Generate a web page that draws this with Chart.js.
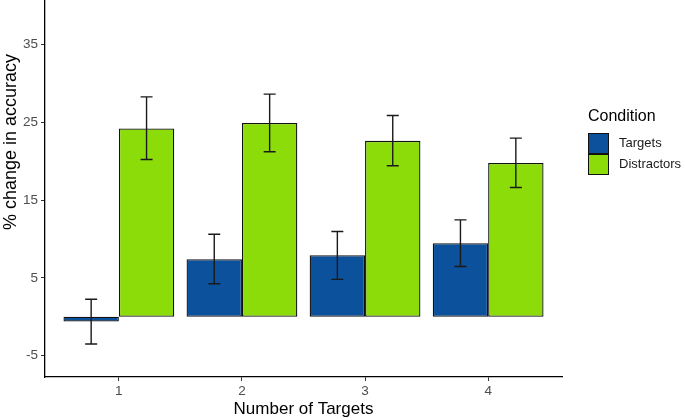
<!DOCTYPE html>
<html>
<head>
<meta charset="utf-8">
<script src="https://cdn.jsdelivr.net/npm/chart.js@4/dist/chart.umd.min.js"></script>
<style>
  html, body { margin: 0; padding: 0; background: #fff; }
  #wrap { width: 685px; height: 420px; position: relative; }
</style>
</head>
<body>
<div id="wrap"><canvas id="chart"></canvas></div>
<script>
// data
var categories = [1, 2, 3, 4];
var seriesNames = ['Targets', 'Distractors'];
var targetValues = [-0.6, 7.4, 7.9, 9.45];
var targetLow = [-3.5, 4.25, 4.8, 6.45];
var targetHigh = [2.25, 10.6, 10.95, 12.45];
var distractorValues = [24.2, 24.9, 22.6, 19.75];
var distractorLow = [20.2, 21.2, 19.4, 16.6];
var distractorHigh = [28.25, 28.6, 25.85, 22.95];
var yTicks = [-5, 5, 15, 25, 35];
var yTitle = '% change in accuracy';
var xTitle = 'Number of Targets';
var legendTitle = 'Condition';

var FONT = '"Liberation Sans", Arial, sans-serif';
var colors = ['#0C519B', '#8CDC0A'];

function points(vals) {
    return categories.map(function(c, i) { return { x: c, y: vals[i] }; });
}

var errorBars = {
    id: 'errorBars',
    afterDatasetsDraw: function(chart) {
        var ctx = chart.ctx;
        var y = chart.scales.y;
        var ranges = [[targetLow, targetHigh], [distractorLow, distractorHigh]];
        ctx.save();
        ctx.strokeStyle = '#1a1a1a';
        ctx.lineWidth = 1.4;
        chart.data.datasets.forEach(function(ds, d) {
            var meta = chart.getDatasetMeta(d);
            meta.data.forEach(function(bar, i) {
                var top = y.getPixelForValue(ranges[d][1][i]);
                var bot = y.getPixelForValue(ranges[d][0][i]);
                var cx = bar.x, half = 6;
                ctx.beginPath();
                ctx.moveTo(cx, top); ctx.lineTo(cx, bot);
                ctx.moveTo(cx - half, top); ctx.lineTo(cx + half, top);
                ctx.moveTo(cx - half, bot); ctx.lineTo(cx + half, bot);
                ctx.stroke();
            });
        });
        ctx.restore();
    }
};

// y title sits off-centre because the original panel is cropped at the top
var yTitlePlugin = {
    id: 'yTitlePlugin',
    afterDraw: function(chart) {
        var ctx = chart.ctx;
        ctx.save();
        ctx.translate(11, 142);
        ctx.rotate(-Math.PI / 2);
        ctx.fillStyle = '#000';
        ctx.font = '18px ' + FONT;
        ctx.textAlign = 'center';
        ctx.textBaseline = 'middle';
        ctx.fillText(yTitle, 0, 0);
        ctx.restore();
    }
};

var sideLegend = {
    id: 'sideLegend',
    afterDraw: function(chart) {
        var ctx = chart.ctx;
        ctx.save();
        ctx.fillStyle = '#000';
        ctx.font = '16px ' + FONT;
        ctx.textBaseline = 'middle';
        ctx.textAlign = 'left';
        ctx.fillText(legendTitle, 588, 117);
        ctx.font = '13px ' + FONT;
        chart.data.datasets.forEach(function(ds, i) {
            var by = 133 + i * 21;
            ctx.fillStyle = ds.backgroundColor;
            ctx.fillRect(588, by, 21, 21);
            ctx.strokeStyle = '#111';
            ctx.lineWidth = 1;
            ctx.strokeRect(588.5, by + 0.5, 20, 20);
            ctx.fillStyle = '#1a1a1a';
            ctx.fillText(ds.label, 619, by + 10.5);
        });
        ctx.restore();
    }
};

new Chart(document.getElementById('chart'), {
    type: 'bar',
    data: {
        datasets: [
            { label: seriesNames[0], data: points(targetValues), backgroundColor: colors[0], borderColor: '#111', borderWidth: 1.3, borderSkipped: false },
            { label: seriesNames[1], data: points(distractorValues), backgroundColor: colors[1], borderColor: '#111', borderWidth: 1.3, borderSkipped: false }
        ]
    },
    options: {
        responsive: true,
        maintainAspectRatio: false,
        animation: false,
        layout: { padding: { top: 0, right: 123, bottom: 0, left: 0 } },
        categoryPercentage: 0.9,
        barPercentage: 1.0,
        plugins: {
            legend: { display: false },
            tooltip: { enabled: false }
        },
        scales: {
            x: {
                type: 'linear',
                min: 0.4,
                max: 4.6,
                offset: false,
                afterBuildTicks: function(scale) {
                    scale.ticks = categories.map(function(c) { return { value: c }; });
                },
                afterFit: function(scale) { scale.height = 43; },
                grid: { display: true, offset: false, drawOnChartArea: false, drawTicks: true, tickLength: 4, color: '#333' },
                border: { display: true, color: '#000', width: 1.3 },
                ticks: { color: '#4d4d4d', font: { family: FONT, size: 13.5 }, padding: 2, maxRotation: 0 },
                title: { display: true, text: xTitle, color: '#000', font: { family: FONT, size: 17 }, padding: { top: 0, bottom: 0 } }
            },
            y: {
                min: -7.74,
                max: 40.7,
                afterBuildTicks: function(scale) {
                    scale.ticks = yTicks.map(function(v) { return { value: v }; });
                },
                afterFit: function(scale) {
                    scale.width = 45;
                    scale.paddingTop = 0;
                },
                grid: { display: true, drawOnChartArea: false, drawTicks: true, tickLength: 4, color: '#333' },
                border: { display: true, color: '#000', width: 1.3 },
                ticks: { color: '#4d4d4d', font: { family: FONT, size: 13.5 }, padding: 3 },
                title: { display: false }
            }
        }
    },
    plugins: [errorBars, yTitlePlugin, sideLegend]
});
</script>
</body>
</html>
